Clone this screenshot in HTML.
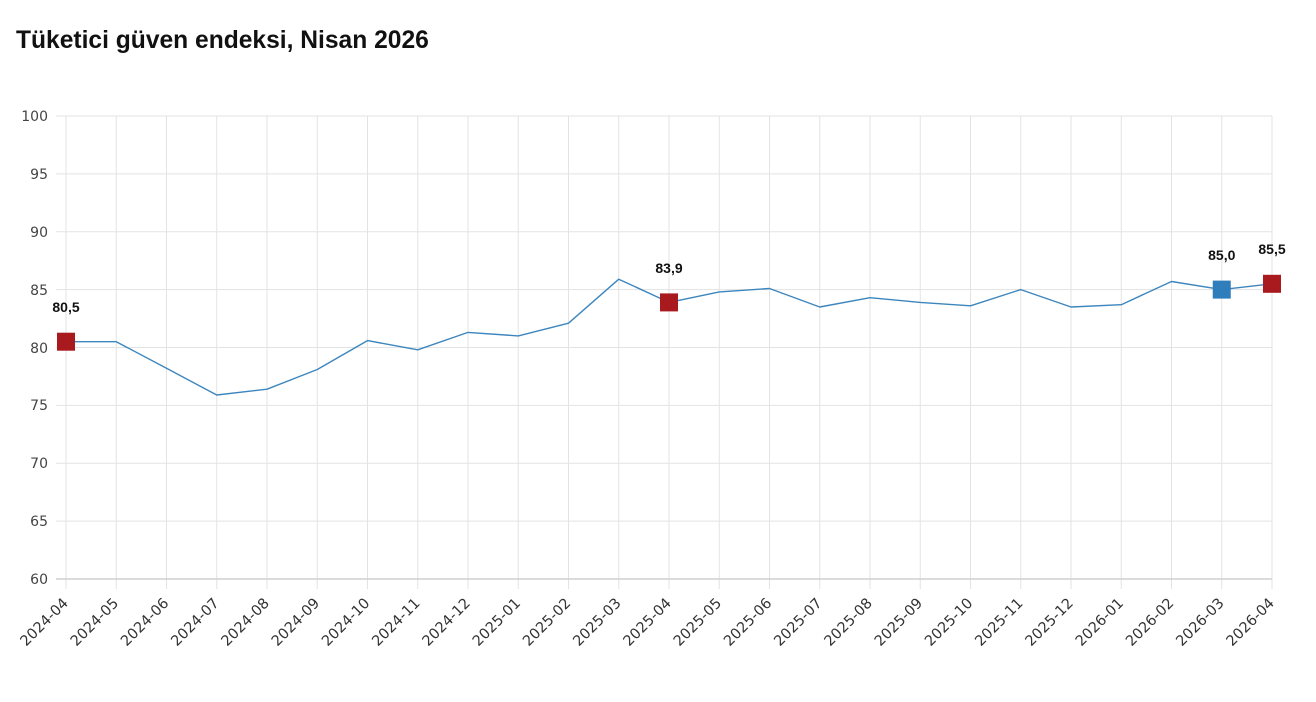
<!DOCTYPE html>
<html>
<head>
<meta charset="utf-8">
<style>
  html,body{margin:0;padding:0;background:#fff;}
  body{width:1316px;height:702px;overflow:hidden;}
  svg{display:block;}
</style>
</head>
<body>
<svg width="1316" height="702" viewBox="0 0 1316 702" xmlns="http://www.w3.org/2000/svg">
  <text x="16" y="48" font-family="Liberation Sans, Arial, sans-serif" font-weight="bold" font-size="24.6" fill="#111">Tüketici güven endeksi, Nisan 2026</text>

  <!-- horizontal grid -->
  <g stroke="#e3e3e3" stroke-width="1">
    <line x1="56" y1="116" x2="1272" y2="116"/>
    <line x1="56" y1="173.9" x2="1272" y2="173.9"/>
    <line x1="56" y1="231.75" x2="1272" y2="231.75"/>
    <line x1="56" y1="289.6" x2="1272" y2="289.6"/>
    <line x1="56" y1="347.5" x2="1272" y2="347.5"/>
    <line x1="56" y1="405.4" x2="1272" y2="405.4"/>
    <line x1="56" y1="463.25" x2="1272" y2="463.25"/>
    <line x1="56" y1="521.1" x2="1272" y2="521.1"/>
  </g>
  <!-- vertical grid -->
  <g stroke="#e3e3e3" stroke-width="1">
    <line x1="66" y1="116" x2="66" y2="589"/>
    <line x1="116.25" y1="116" x2="116.25" y2="589"/>
    <line x1="166.5" y1="116" x2="166.5" y2="589"/>
    <line x1="216.75" y1="116" x2="216.75" y2="589"/>
    <line x1="267" y1="116" x2="267" y2="589"/>
    <line x1="317.25" y1="116" x2="317.25" y2="589"/>
    <line x1="367.5" y1="116" x2="367.5" y2="589"/>
    <line x1="417.75" y1="116" x2="417.75" y2="589"/>
    <line x1="468" y1="116" x2="468" y2="589"/>
    <line x1="518.25" y1="116" x2="518.25" y2="589"/>
    <line x1="568.5" y1="116" x2="568.5" y2="589"/>
    <line x1="618.75" y1="116" x2="618.75" y2="589"/>
    <line x1="669" y1="116" x2="669" y2="589"/>
    <line x1="719.25" y1="116" x2="719.25" y2="589"/>
    <line x1="769.5" y1="116" x2="769.5" y2="589"/>
    <line x1="819.75" y1="116" x2="819.75" y2="589"/>
    <line x1="870" y1="116" x2="870" y2="589"/>
    <line x1="920.25" y1="116" x2="920.25" y2="589"/>
    <line x1="970.5" y1="116" x2="970.5" y2="589"/>
    <line x1="1020.75" y1="116" x2="1020.75" y2="589"/>
    <line x1="1071" y1="116" x2="1071" y2="589"/>
    <line x1="1121.25" y1="116" x2="1121.25" y2="589"/>
    <line x1="1171.5" y1="116" x2="1171.5" y2="589"/>
    <line x1="1221.75" y1="116" x2="1221.75" y2="589"/>
    <line x1="1272" y1="116" x2="1272" y2="589"/>
  </g>
  <!-- x axis -->
  <line x1="56" y1="579" x2="1272" y2="579" stroke="#cfcfcf" stroke-width="1.5"/>

  <!-- y labels -->
  <g font-family="DejaVu Sans, Liberation Sans, sans-serif" font-size="14" fill="#444" text-anchor="end">
    <text x="48" y="121">100</text>
    <text x="48" y="179">95</text>
    <text x="48" y="237">90</text>
    <text x="48" y="295">85</text>
    <text x="48" y="353">80</text>
    <text x="48" y="410">75</text>
    <text x="48" y="468">70</text>
    <text x="48" y="526">65</text>
    <text x="48" y="584">60</text>
  </g>

  <!-- x labels -->
  <g font-family="DejaVu Sans, Liberation Sans, sans-serif" font-size="14.5" fill="#333" text-anchor="end">
    <text transform="translate(69,604) rotate(-45)">2024-04</text>
    <text transform="translate(119.25,604) rotate(-45)">2024-05</text>
    <text transform="translate(169.5,604) rotate(-45)">2024-06</text>
    <text transform="translate(219.75,604) rotate(-45)">2024-07</text>
    <text transform="translate(270,604) rotate(-45)">2024-08</text>
    <text transform="translate(320.25,604) rotate(-45)">2024-09</text>
    <text transform="translate(370.5,604) rotate(-45)">2024-10</text>
    <text transform="translate(420.75,604) rotate(-45)">2024-11</text>
    <text transform="translate(471,604) rotate(-45)">2024-12</text>
    <text transform="translate(521.25,604) rotate(-45)">2025-01</text>
    <text transform="translate(571.5,604) rotate(-45)">2025-02</text>
    <text transform="translate(621.75,604) rotate(-45)">2025-03</text>
    <text transform="translate(672,604) rotate(-45)">2025-04</text>
    <text transform="translate(722.25,604) rotate(-45)">2025-05</text>
    <text transform="translate(772.5,604) rotate(-45)">2025-06</text>
    <text transform="translate(822.75,604) rotate(-45)">2025-07</text>
    <text transform="translate(873,604) rotate(-45)">2025-08</text>
    <text transform="translate(923.25,604) rotate(-45)">2025-09</text>
    <text transform="translate(973.5,604) rotate(-45)">2025-10</text>
    <text transform="translate(1023.75,604) rotate(-45)">2025-11</text>
    <text transform="translate(1074,604) rotate(-45)">2025-12</text>
    <text transform="translate(1124.25,604) rotate(-45)">2026-01</text>
    <text transform="translate(1174.5,604) rotate(-45)">2026-02</text>
    <text transform="translate(1224.75,604) rotate(-45)">2026-03</text>
    <text transform="translate(1275,604) rotate(-45)">2026-04</text>
  </g>

  <!-- series -->
  <polyline fill="none" stroke="#3d86bd" stroke-width="1.4" stroke-linejoin="round"
    points="66,341.7 116.25,341.7 166.5,368.3 216.75,395 267,389.2 317.25,369.5 367.5,340.6 417.75,349.8 468,332.4 518.25,335.9 568.5,323.2 618.75,279.2 669,302.4 719.25,291.9 769.5,288.5 819.75,307 870,297.7 920.25,302.4 970.5,305.8 1020.75,289.6 1071,307 1121.25,304.7 1171.5,281.5 1221.75,289.6 1272,283.8"/>

  <!-- markers -->
  <rect x="57" y="332.7" width="18" height="18" fill="#a81a1e"/>
  <rect x="660" y="293.4" width="18" height="18" fill="#a81a1e"/>
  <rect x="1212.75" y="280.6" width="18" height="18" fill="#2f7dba"/>
  <rect x="1263" y="274.8" width="18" height="18" fill="#a81a1e"/>

  <!-- value labels -->
  <g font-family="Liberation Sans, Arial, sans-serif" font-size="14" font-weight="bold" fill="#111" text-anchor="middle">
    <text x="66" y="312">80,5</text>
    <text x="669" y="273">83,9</text>
    <text x="1221.75" y="260">85,0</text>
    <text x="1272" y="254">85,5</text>
  </g>
</svg>
</body>
</html>
